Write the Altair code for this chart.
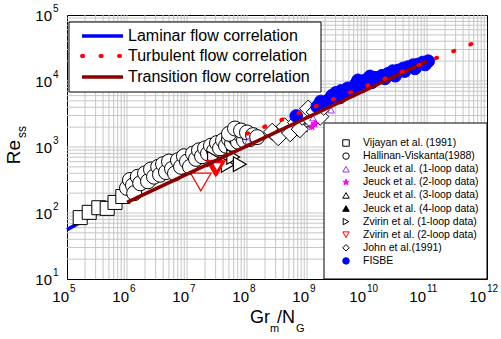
import altair as alt
import numpy as np
import pandas as pd

FONT = "Liberation Sans"

# ---------------- correlation lines (end points) ----------
lam_gr = [1e5, 6e5]
lam_re = [56, 137]
tur_gr = [1e8, 1e12]
tur_re = [1590, 45200]
tra_gr = [1e6, 1e11]
tra_re = [145, 20000]

# ---------------- experimental data (log10 of Gr_m/N_G and Re_ss) ------------
vij_lgr = [5.22, 5.37, 5.53, 5.67, 5.80, 5.93]
vij_lre = [1.93, 2.01, 2.08, 2.07, 2.16, 2.25]

hv_lgr = [6.00, 6.05, 6.10, 6.12, 6.18, 6.22, 6.30, 6.35, 6.40, 6.45, 6.52, 6.55,
          6.60, 6.65, 6.70, 6.75, 6.80, 6.85, 6.90, 6.95, 7.00, 7.05, 7.10, 7.15,
          7.20, 7.25, 7.30, 7.35, 7.40, 7.45, 7.50, 7.55, 7.60, 7.65, 7.70, 7.75,
          7.80, 7.85, 7.90, 7.95, 8.05, 7.70, 7.80, 7.90, 8.00, 8.10, 8.17]
hv_lre = [2.38, 2.50, 2.42, 2.30, 2.55, 2.45, 2.60, 2.48, 2.66, 2.55, 2.70, 2.58,
          2.74, 2.62, 2.78, 2.67, 2.60, 2.80, 2.70, 2.86, 2.78, 2.70, 2.90, 2.82,
          2.95, 2.86, 2.98, 2.90, 3.02, 2.94, 3.06, 2.98, 3.10, 3.02, 3.12, 3.05,
          3.14, 3.08, 3.18, 3.10, 3.12, 3.20, 3.28, 3.25, 3.22, 3.18, 3.15]

j1_lgr = [8.02, 9.40, 9.10]
j1_lre = [3.09, 3.56, 3.44]
j2_lgr = [9.13, 9.08]
j2_lre = [3.35, 3.31]
j3_lgr = [8.90, 9.00]
j3_lre = [3.30, 3.35]
j4_lgr = [8.95]
j4_lre = [3.28]

zv1_lgr = [7.45, 7.68, 7.77, 7.88]
zv1_lre = [2.82, 2.73, 2.85, 2.74]
zv2_lgr = [7.23]
zv2_lre = [2.47]
zv2b_lgr = [7.46, 7.48, 7.50]
zv2b_lre = [2.70, 2.67, 2.69]

john_lgr = [8.42, 8.52, 8.63, 8.72, 8.82, 8.88, 8.92, 9.02, 9.08, 9.13, 9.22, 9.28]
john_lre = [3.23, 3.15, 3.31, 3.21, 3.37, 3.27, 3.46, 3.58, 3.40, 3.53, 3.46, 3.61]

fis_lgr = [8.82, 9.17, 9.23, 9.32, 9.38, 9.42, 9.48, 9.55, 9.57, 9.63, 9.68, 9.75,
           9.82, 9.85, 9.92, 9.97, 10.05, 10.08, 10.13, 10.25, 10.30, 10.35, 10.43,
           10.47, 10.52, 10.60, 10.63, 10.68, 10.77, 10.80, 10.85, 10.93, 10.97, 11.02]
fis_lre = [3.47, 3.61, 3.69, 3.67, 3.73, 3.78, 3.82, 3.75, 3.85, 3.81, 3.89, 3.85,
           3.96, 4.01, 3.92, 4.01, 4.07, 3.98, 4.05, 4.08, 4.04, 4.11, 4.15,
           4.08, 4.16, 4.19, 4.15, 4.21, 4.24, 4.19, 4.25, 4.28, 4.25, 4.30]

# ---------------- axes ------------------------------------------------------
x_exps = [5, 6, 7, 8, 9, 10, 11, 12]
y_exps = [1, 2, 3, 4, 5]
x_grid = [k * 10.0 ** n for n in range(5, 12) for k in range(2, 10)] + \
         [10.0 ** n for n in range(6, 12)]
y_grid = [k * 10.0 ** n for n in range(1, 5) for k in range(2, 10)] + \
         [10.0 ** n for n in range(2, 5)]

corr_labels = ["Laminar flow correlation", "Turbulent flow correlation",
               "Transition flow correlation"]
corr_colors = ["#0000ff", "#ff0000", "#8b0000"]

leg_labels = ["Vijayan et al. (1991)", "Hallinan-Viskanta(1988)",
              "Jeuck et al. (1-loop data)", "Jeuck et al. (2-loop data)",
              "Jeuck et al. (3-loop data)", "Jeuck et al. (4-loop data)",
              "Zvirin et al. (1-loop data)", "Zvirin et al. (2-loop data)",
              "John et al.(1991)", "FISBE"]

STAR = ("M0,-1L0.2245,-0.309L0.951,-0.309L0.363,0.118L0.588,0.809L0,0.382"
        "L-0.588,0.809L-0.363,0.118L-0.951,-0.309L-0.2245,-0.309Z")

leg_shapes = ["square", "circle", "triangle-up", STAR, "triangle-up", "triangle-up",
              "triangle-right", "triangle-down", "diamond", "circle"]
leg_fills = ["white", "white", "white", "#ff00ff", "white", "black",
             "white", "white", "white", "#0000ff"]
leg_strokes = ["black", "black", "#9b30ff", "#ff00ff", "black", "black",
               "black", "#ff0000", "black", "#0000ff"]

xs = alt.Scale(type="log", domain=[1e5, 1e12], nice=False)
ys = alt.Scale(type="log", domain=[10, 1e5], nice=False)
GRID = "#c6c6c6"


def pts(lgr, lre):
    return pd.DataFrame({"gr": 10 ** np.array(lgr), "re": 10 ** np.array(lre)})


def enc(chart):
    return chart.encode(x=alt.X("gr:Q", scale=xs, axis=None),
                        y=alt.Y("re:Q", scale=ys, axis=None))


def point_layer(lgr, lre, shape, size, fill, stroke, sw=1.0):
    return enc(alt.Chart(pts(lgr, lre)).mark_point(
        shape=shape, size=size, fill=fill, stroke=stroke, strokeWidth=sw,
        filled=False, opacity=1, fillOpacity=1))


# grid lines (minor + major decades) drawn through the log scales
xgrid = alt.Chart(pd.DataFrame({"gr": x_grid})).mark_rule(
    color=GRID, strokeWidth=1).encode(x=alt.X("gr:Q", scale=xs, axis=None))
ygrid = alt.Chart(pd.DataFrame({"re": y_grid})).mark_rule(
    color=GRID, strokeWidth=1).encode(y=alt.Y("re:Q", scale=ys, axis=None))

lam = enc(alt.Chart(pd.DataFrame({"gr": lam_gr, "re": lam_re})).mark_line(
    color=corr_colors[0], strokeWidth=3.5))
tra = enc(alt.Chart(pd.DataFrame({"gr": tra_gr, "re": tra_re})).mark_line(
    color=corr_colors[2], strokeWidth=3.5))
tur = enc(alt.Chart(pd.DataFrame({"gr": tur_gr, "re": tur_re})).mark_line(
    color=corr_colors[1], strokeWidth=4, strokeDash=[1.2, 17.3], strokeCap="round"))

layers = [
    xgrid, ygrid,
    lam,
    point_layer(vij_lgr, vij_lre, "square", 196, "white", "black"),
    point_layer(hv_lgr, hv_lre, "circle", 225, "white", "black"),
    point_layer(j3_lgr, j3_lre, "triangle-up", 45, "white", "black"),
    point_layer(j4_lgr, j4_lre, "triangle-up", 45, "black", "black"),
    point_layer(john_lgr, john_lre, "diamond", 300, "white", "black"),
    point_layer(fis_lgr, fis_lre, "circle", 160, "#0000ff", "#0000ff"),
    point_layer(j1_lgr, j1_lre, "triangle-up", 45, "white", "#9b30ff"),
    point_layer(j2_lgr, j2_lre, STAR, 60, "#ff00ff", "#ff00ff"),
    point_layer(zv1_lgr, zv1_lre, "triangle-right", 220, "white", "black", 1.2),
    point_layer(zv2_lgr, zv2_lre, "triangle-down", 420, "white", "#ff0000", 1.2),
    point_layer(zv2b_lgr, zv2b_lre, "triangle-down", 170, "white", "#ff0000", 3),
    tra,
    tur,
]

# ---------------- tick labels (10 with superscript exponent) -----------------
xt = pd.DataFrame({"v": [10.0 ** e for e in x_exps], "e": [str(e) for e in x_exps],
                   "n": x_exps})
yt = pd.DataFrame({"v": [10.0 ** e for e in y_exps], "e": [str(e) for e in y_exps]})

TICK_FS = 15
x_ten_1 = alt.Chart(xt).transform_filter("datum.n < 10").mark_text(
    text="10", font=FONT, fontSize=TICK_FS, align="right", baseline="middle", dx=2).encode(
    x=alt.X("v:Q", scale=xs, axis=None), y=alt.value(282))
x_exp_1 = alt.Chart(xt).transform_filter("datum.n < 10").mark_text(
    font=FONT, fontSize=10, align="left", baseline="middle", dx=3).encode(
    x=alt.X("v:Q", scale=xs, axis=None), y=alt.value(274), text="e:N")
x_ten_2 = alt.Chart(xt).transform_filter("datum.n >= 10").mark_text(
    text="10", font=FONT, fontSize=TICK_FS, align="right", baseline="middle", dx=-1).encode(
    x=alt.X("v:Q", scale=xs, axis=None), y=alt.value(282))
x_exp_2 = alt.Chart(xt).transform_filter("datum.n >= 10").mark_text(
    font=FONT, fontSize=10, align="left", baseline="middle", dx=0).encode(
    x=alt.X("v:Q", scale=xs, axis=None), y=alt.value(274), text="e:N")
y_ten = alt.Chart(yt).mark_text(
    text="10", font=FONT, fontSize=TICK_FS, align="right", baseline="middle", dy=1).encode(
    y=alt.Y("v:Q", scale=ys, axis=None), x=alt.value(-15))
y_exp = alt.Chart(yt).mark_text(
    font=FONT, fontSize=10, align="left", baseline="middle", dy=-6).encode(
    y=alt.Y("v:Q", scale=ys, axis=None), x=alt.value(-14), text="e:N")

# ---------------- axis titles -------------------------------------------------
one = pd.DataFrame({"a": [0]})


def txt(s, x, y, size, align="left", angle=0, baseline="alphabetic"):
    return alt.Chart(one).mark_text(text=s, font=FONT, fontSize=size, align=align,
                                    angle=angle, baseline=baseline).encode(
        x=alt.value(x), y=alt.value(y))


titles = [
    txt("Gr", 183, 308, 18),
    txt("m", 203, 317, 11),
    txt("/N", 210, 308, 18),
    txt("G", 229, 317, 11),
    txt("Re", -47, 137, 19, align="center", angle=270),
    txt("ss", -41, 117, 12, align="center", angle=270),
]

# ---------------- legend 1 (correlations) --------------------------------------
leg1_box = alt.Chart(one).mark_rect(fill="white", stroke="black", strokeWidth=1).encode(
    x=alt.value(2), x2=alt.value(254), y=alt.value(7), y2=alt.value(77))
leg1_rows_y = [21, 41, 62]
leg1 = [leg1_box]
for i in range(3):
    if i == 1:
        rule = alt.Chart(one).mark_rule(color=corr_colors[i], strokeWidth=4,
                                        strokeDash=[1.2, 17.3], strokeCap="round")
    else:
        rule = alt.Chart(one).mark_rule(color=corr_colors[i], strokeWidth=3.5)
    leg1.append(rule.encode(x=alt.value(15), x2=alt.value(56),
                            y=alt.value(leg1_rows_y[i])))
    leg1.append(txt(corr_labels[i], 61, leg1_rows_y[i], 16, baseline="middle"))

# ---------------- legend 2 (data sets) ------------------------------------------
leg2_df = pd.DataFrame({"label": leg_labels, "shape": leg_shapes, "fill": leg_fills,
                        "stroke": leg_strokes,
                        "py": [128 + 13.1 * i for i in range(len(leg_labels))]})
leg2_box = alt.Chart(one).mark_rect(fill="white", stroke="black", strokeWidth=1).encode(
    x=alt.value(257), x2=alt.value(420), y=alt.value(108), y2=alt.value(264))
leg2_sym = alt.Chart(leg2_df).mark_point(size=42, strokeWidth=1, opacity=1,
                                         fillOpacity=1).encode(
    x=alt.value(279),
    y=alt.Y("py:Q", scale=None, axis=None),
    shape=alt.Shape("shape:N", scale=None, legend=None),
    fill=alt.Fill("fill:N", scale=None, legend=None),
    stroke=alt.Stroke("stroke:N", scale=None, legend=None))
leg2_txt = alt.Chart(leg2_df).mark_text(font=FONT, fontSize=10.5, align="left",
                                        baseline="middle").encode(
    x=alt.value(296), y=alt.Y("py:Q", scale=None, axis=None), text="label:N")

chart = alt.layer(
    *layers, x_ten_1, x_exp_1, x_ten_2, x_exp_2, y_ten, y_exp, *titles,
    *leg1, leg2_box, leg2_sym, leg2_txt
).properties(
    width=420, height=264,
    padding={"left": 67, "top": 15, "right": 14, "bottom": 60},
    autosize=alt.AutoSizeParams(type="none"),
    background="white",
).configure_view(stroke="black", strokeWidth=1)

chart.save("out.html", embed_options={"renderer": "svg", "actions": False})
